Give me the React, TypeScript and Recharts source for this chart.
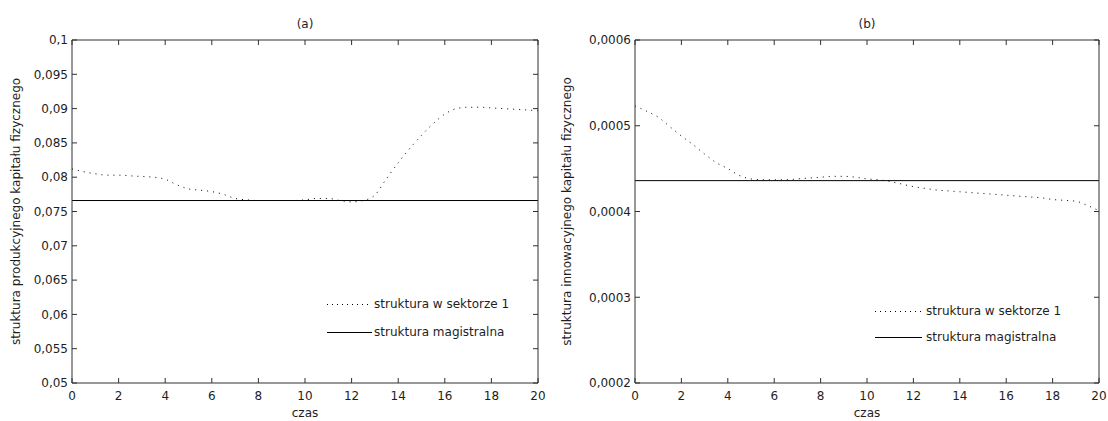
import React from "react";
import { LineChart, Line, XAxis, YAxis, Label } from "recharts";

// czas (time grid shared by both panels)
const czas = [
  0, 0.5, 1, 1.5, 2, 2.5, 3, 3.5, 4, 4.5, 5, 5.5, 6, 6.5, 7, 7.5, 8, 8.5, 9, 9.5, 10,
  10.5, 11, 11.5, 12, 12.5, 13, 13.5, 14, 14.5, 15, 15.5, 16, 16.5, 17, 17.5, 18, 18.5, 19, 19.5, 20,
];

// (a) struktura produkcyjnego kapitału fizycznego – sektor 1
const sektorA = [
  0.0812, 0.0808, 0.0805, 0.0803, 0.0803, 0.0802, 0.0801, 0.08, 0.0797, 0.0789, 0.0783,
  0.0781, 0.0779, 0.0775, 0.0769, 0.0767, 0.0766, 0.0766, 0.0766, 0.0766, 0.0767,
  0.0769, 0.0769, 0.0766, 0.0764, 0.0766, 0.0774, 0.0798, 0.0821, 0.0842, 0.0861,
  0.0878, 0.0892, 0.09, 0.0902, 0.0902, 0.0901, 0.09, 0.0899, 0.0898, 0.0897,
];
const magistralnaA = 0.0766;

// (b) struktura innowacyjnego kapitału fizycznego – sektor 1
const sektorB = [
  0.000523, 0.000517, 0.00051, 0.000499, 0.000488, 0.000478, 0.000467, 0.000457, 0.00045,
  0.000442, 0.000438, 0.000437, 0.000437, 0.000437, 0.000438, 0.000439, 0.00044, 0.000441,
  0.000441, 0.00044, 0.000438, 0.000437, 0.000435, 0.000432, 0.000429, 0.000427, 0.000425,
  0.000424, 0.000423, 0.000422, 0.000421, 0.00042, 0.000419, 0.000418, 0.000417, 0.000416,
  0.000414, 0.000413, 0.000412, 0.000407, 0.000401,
];
const magistralnaB = 0.000436;

const xTicks = [0, 2, 4, 6, 8, 10, 12, 14, 16, 18, 20];
const yTicksA = [0.05, 0.055, 0.06, 0.065, 0.07, 0.075, 0.08, 0.085, 0.09, 0.095, 0.1];
const yTicksB = [0.0002, 0.0003, 0.0004, 0.0005, 0.0006];

const nazwaSektor = "struktura w sektorze 1";
const nazwaMagistrala = "struktura magistralna";

const FONT = "'DejaVu Sans', sans-serif";
const INK = "#1e1e1e";
const AXIS = "#303030";
const DOTS = "1 5";

const fmt = (v: number) => String(v).replace(".", ",");

const series = (values: number[]) => czas.map((t, i) => ({ t, v: values[i] }));
const flat = (value: number) => [
  { t: czas[0], v: value },
  { t: czas[czas.length - 1], v: value },
];

type LegendBoxProps = { rowGap: number; sampleLen: number; textX: number };

function LegendBox({ rowGap, sampleLen, textX }: LegendBoxProps) {
  const y1 = 14;
  const y2 = 14 + rowGap;
  return (
    <svg width={220} height={y2 + 14} style={{ display: "block", overflow: "visible" }}>
      <line x1={0} x2={sampleLen} y1={y1 + 0.5} y2={y1 + 0.5} stroke="#000" strokeDasharray="1 4" />
      <text x={textX} y={y1} dominantBaseline="central" fontFamily={FONT} fontSize={12} fill={INK}>
        {nazwaSektor}
      </text>
      <line x1={0} x2={sampleLen} y1={y2 + 0.5} y2={y2 + 0.5} stroke="#000" />
      <text x={textX} y={y2} dominantBaseline="central" fontFamily={FONT} fontSize={12} fill={INK}>
        {nazwaMagistrala}
      </text>
    </svg>
  );
}

type PanelProps = {
  left: number;
  width: number;
  axisWidth: number;
  marginRight: number;
  title: string;
  yLabel: string;
  yLabelOffset: number;
  yDomain: [number, number];
  yTicks: number[];
  sektor: number[];
  magistralna: number;
  legendLeft: number;
  legendTop: number;
  legendGap: number;
  legendSample: number;
  legendTextX: number;
};

// Each panel: a boxed MATLAB-style plot with ticks pointing inwards on all four sides
function Panel(p: PanelProps) {
  const labelStyle = { fontSize: 12, fill: INK, fontFamily: FONT };
  const tickText = { fontSize: 12, fill: INK, fontFamily: FONT };
  return (
    <div style={{ position: "absolute", left: p.left, top: 0 }}>
      <LineChart
        width={p.width}
        height={420}
        margin={{ top: 39, right: p.marginRight - 1, bottom: 0, left: 0 }}
      >
        <XAxis
          xAxisId="b"
          dataKey="t"
          type="number"
          domain={[0, 20]}
          ticks={xTicks}
          height={37}
          tickSize={-5}
          tickMargin={13}
          tick={tickText}
          stroke={AXIS}
          interval={0}
        >
          <Label value="czas" position="insideBottom" offset={3} style={labelStyle} />
        </XAxis>
        <XAxis
          xAxisId="t"
          orientation="top"
          dataKey="t"
          type="number"
          domain={[0, 20]}
          ticks={xTicks}
          height={1}
          tickSize={-5}
          tickMargin={500}
          tick={tickText}
          tickFormatter={() => ""}
          stroke={AXIS}
          interval={0}
        >
          <Label value={p.title} position="top" offset={11} style={labelStyle} />
        </XAxis>
        <YAxis
          yAxisId="l"
          type="number"
          domain={p.yDomain}
          ticks={p.yTicks}
          width={p.axisWidth}
          tickSize={-5}
          tickMargin={9}
          tick={tickText}
          tickFormatter={fmt}
          stroke={AXIS}
          interval={0}
        >
          <Label
            value={p.yLabel}
            angle={-90}
            position="insideLeft"
            offset={p.yLabelOffset}
            style={{ ...labelStyle, textAnchor: "middle" }}
          />
        </YAxis>
        <YAxis
          yAxisId="r"
          orientation="right"
          type="number"
          domain={p.yDomain}
          ticks={p.yTicks}
          width={1}
          tickSize={-5}
          tickMargin={0}
          tick={tickText}
          tickFormatter={() => ""}
          stroke={AXIS}
          interval={0}
        />
        {/* steady-state level, bound to the mirrored top/right axes (same domains) */}
        <Line
          xAxisId="t"
          yAxisId="r"
          data={flat(p.magistralna)}
          dataKey="v"
          stroke="#000"
          dot={false}
          isAnimationActive={false}
        />
        <Line
          xAxisId="b"
          yAxisId="l"
          data={series(p.sektor)}
          dataKey="v"
          type="monotone"
          stroke="#000"
          strokeDasharray={DOTS}
          dot={false}
          isAnimationActive={false}
        />
      </LineChart>
      <div style={{ position: "absolute", left: p.legendLeft, top: p.legendTop }}>
        <LegendBox rowGap={p.legendGap} sampleLen={p.legendSample} textX={p.legendTextX} />
      </div>
    </div>
  );
}

export default function App() {
  return (
    <div style={{ position: "absolute", left: 0, top: 0, width: 1108, height: 421 }}>
      <Panel
        left={0}
        width={560}
        axisWidth={72}
        marginRight={22}
        title="(a)"
        yLabel="struktura produkcyjnego kapitału fizycznego"
        yLabelOffset={16}
        yDomain={[0.05, 0.1]}
        yTicks={yTicksA}
        sektor={sektorA}
        magistralna={magistralnaA}
        legendLeft={327}
        legendTop={290}
        legendGap={28}
        legendSample={45}
        legendTextX={47}
      />
      <Panel
        left={560}
        width={548}
        axisWidth={75}
        marginRight={9}
        title="(b)"
        yLabel="struktura innowacyjnego kapitału fizycznego"
        yLabelOffset={7}
        yDomain={[0.0002, 0.0006]}
        yTicks={yTicksB}
        sektor={sektorB}
        magistralna={magistralnaB}
        legendLeft={315}
        legendTop={297}
        legendGap={26}
        legendSample={47}
        legendTextX={51}
      />
    </div>
  );
}
